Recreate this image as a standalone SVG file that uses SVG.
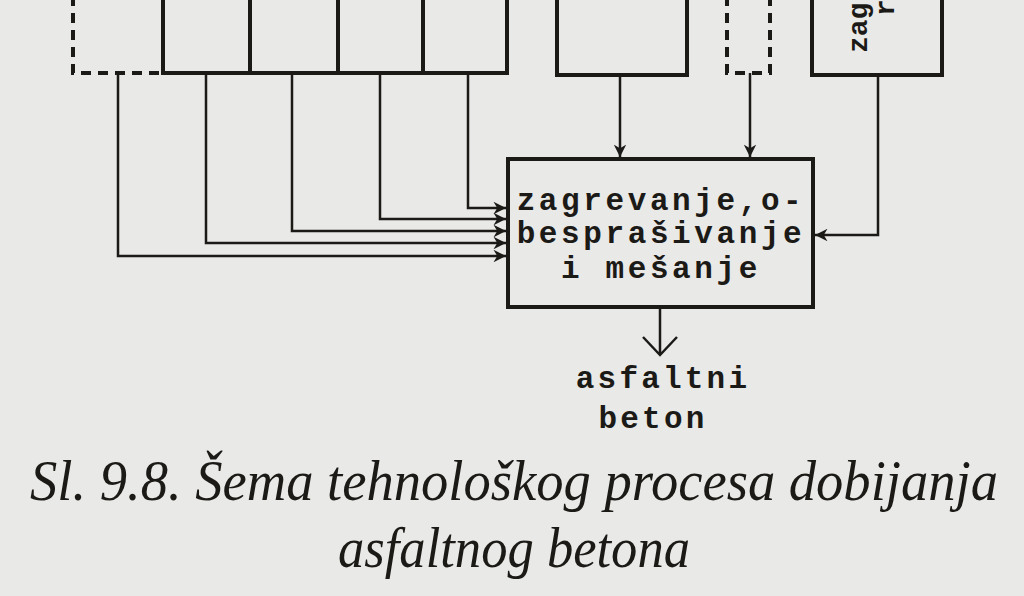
<svg xmlns="http://www.w3.org/2000/svg" width="1024" height="596" viewBox="0 0 1024 596">
<style>
.bg{fill:#e9e9e7}
.box{fill:none;stroke:#1c1a17;stroke-width:4}
.dash{fill:none;stroke:#1c1a17;stroke-width:4;stroke-dasharray:10,7}
.ln{fill:none;stroke:#1c1a17;stroke-width:2.5}
.tw{font-family:"Liberation Mono","DejaVu Sans Mono",monospace;font-weight:bold;fill:#1c1a17}
.cap{font-family:"Liberation Serif","DejaVu Serif",serif;font-style:italic;fill:#1c1a17}
</style>
<defs>
<marker id="ah" viewBox="0 0 10 10" refX="10" refY="5" markerWidth="6" markerHeight="5" orient="auto" markerUnits="strokeWidth">
<path d="M0,0 L10,5 L0,10 L3,5 z" fill="#1c1a17"/>
</marker>
</defs>
<rect class="bg" x="0" y="0" width="1024" height="596"/>
<g id="top-left-dashed">
<path class="dash" d="M73,-4 V73 H162"/>
</g>
<g id="top-boxes-left">
<path class="box" d="M163,-4 V73 H507 V-4"/>
<line class="box" x1="250" y1="-4" x2="250" y2="73"/>
<line class="box" x1="338" y1="-4" x2="338" y2="73"/>
<line class="box" x1="423" y1="-4" x2="423" y2="73"/>
</g>
<g id="top-box-middle">
<path class="box" d="M557,-4 V75 H687 V-4"/>
</g>
<g id="top-box-dashed">
<path class="dash" d="M727,-4 V73 H770 V-4"/>
</g>
<g id="top-box-right">
<path class="box" d="M812,-4 V75 H942 V-4"/>
<text class="tw" font-size="28" transform="translate(867,53) rotate(-90)">zag</text>
<text class="tw" font-size="28" transform="translate(894,16) rotate(-90)">r</text>
</g>
<g id="main-box">
<rect class="box" x="508" y="159" width="305" height="148"/>
<text class="tw" font-size="31" letter-spacing="3.6" x="661" y="210" text-anchor="middle">zagrevanje,o-</text>
<text class="tw" font-size="31" letter-spacing="3.6" x="661" y="243" text-anchor="middle">besprašivanje</text>
<text class="tw" font-size="31" letter-spacing="3.6" x="661" y="278" text-anchor="middle">i mešanje</text>
</g>
<g id="output-label">
<text class="tw" font-size="31" letter-spacing="3.2" x="663" y="388" text-anchor="middle">asfaltni</text>
<text class="tw" font-size="31" letter-spacing="3.2" x="653" y="428" text-anchor="middle">beton</text>
</g>
<g id="connectors">
<path class="ln" d="M118,73 V256 H506" marker-end="url(#ah)"/>
<path class="ln" d="M206,73 V243 H506" marker-end="url(#ah)"/>
<path class="ln" d="M292,73 V231 H506" marker-end="url(#ah)"/>
<path class="ln" d="M380,73 V219 H506" marker-end="url(#ah)"/>
<path class="ln" d="M468,73 V208 H506" marker-end="url(#ah)"/>
<path class="ln" d="M620,75 V157" marker-end="url(#ah)"/>
<path class="ln" d="M750,73 V157" marker-end="url(#ah)"/>
<path class="ln" d="M878,75 V235 H815" marker-end="url(#ah)"/>
<path class="ln" d="M660,307 V355 M643,337 L660,355 L677,337"/>
</g>
<g id="caption">
<text class="cap" font-size="56" x="30" y="500" textLength="968" lengthAdjust="spacingAndGlyphs">Sl. 9.8. Šema tehnološkog procesa dobijanja</text>
<text class="cap" font-size="56" x="338" y="567" textLength="352" lengthAdjust="spacingAndGlyphs">asfaltnog betona</text>
</g>
</svg>
